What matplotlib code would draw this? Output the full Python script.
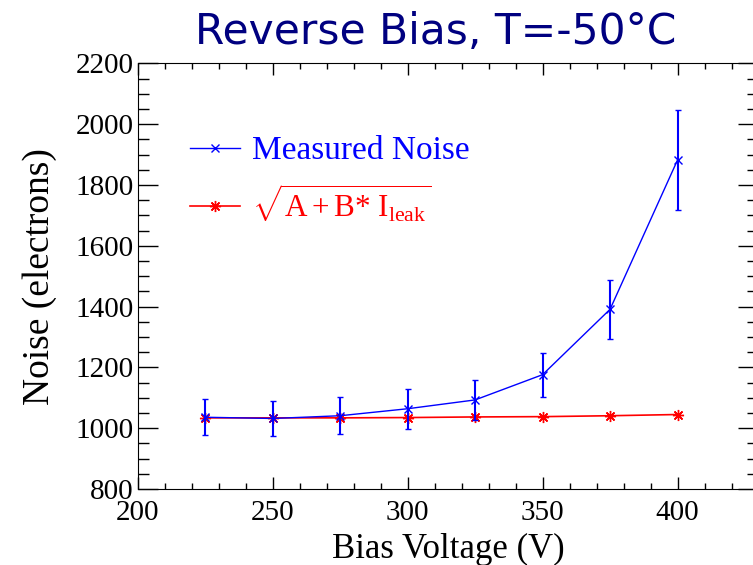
import matplotlib
matplotlib.use('Agg')
import matplotlib.pyplot as plt
from matplotlib.ticker import MultipleLocator

# bias voltage points (V)
voltage = [225, 250, 275, 300, 325, 350, 375, 400]
# measured noise and its error (electrons)
noise = [1036, 1032, 1041, 1064, 1093, 1176, 1391, 1882]
noise_err = [60, 58, 60, 66, 66, 72, 98, 165]
# expected noise from leakage current
leak_noise = [1034, 1034, 1034, 1035, 1037, 1038, 1041, 1045]

plt.rcParams['font.family'] = ['Liberation Serif', 'DejaVu Serif']
plt.rcParams['mathtext.fontset'] = 'custom'
plt.rcParams['mathtext.rm'] = 'Liberation Serif'
plt.rcParams['mathtext.it'] = 'Liberation Serif:italic'

fig = plt.figure(figsize=(7.53, 5.65), dpi=100)
ax = fig.add_axes([0.1829, 0.1345, 0.8244, 0.7534])

eb = ax.errorbar(voltage, noise, yerr=noise_err, color='#0000ff', lw=1.0,
                 marker='x', ms=6, mew=1.0, elinewidth=1.5, capsize=2.5,
                 capthick=1.5, zorder=3)
red, = ax.plot(voltage, leak_noise, color='#ff0000', lw=1.2, marker=(8, 2, 0),
               ms=8, mew=1.0, zorder=2)

ax.set_xlim(200, 430)
ax.set_ylim(800, 2200)
ax.xaxis.set_major_locator(MultipleLocator(50))
ax.xaxis.set_minor_locator(MultipleLocator(10))
ax.yaxis.set_major_locator(MultipleLocator(200))
ax.yaxis.set_minor_locator(MultipleLocator(50))
ax.tick_params(which='both', direction='in', top=True, right=True,
               labelsize=21, width=1.0)
ax.tick_params(axis='x', which='major', length=8.6, pad=8)
ax.tick_params(axis='x', which='minor', length=4.3)
ax.tick_params(axis='y', which='major', length=14.4, pad=3)
ax.tick_params(axis='y', which='minor', length=7.9)

ax.set_xlabel('Bias Voltage (V)', fontsize=25, labelpad=5)
ax.set_ylabel('Noise (electrons)', fontsize=27, labelpad=13)

leg = ax.legend([eb.lines[0], red],
                ['Measured Noise', r'$\sqrt{\mathrm{A+B{*}\ I_{leak}}}$'],
                loc='upper left', bbox_to_anchor=(0.084, 0.83), frameon=False,
                fontsize=24, handlelength=1.5, handletextpad=0.36,
                labelspacing=0.5, borderpad=0, borderaxespad=0,
                labelcolor='linecolor')
leg.get_texts()[1].set_fontsize(22.5)

fig.text(0.579, 0.943, 'Reverse Bias, T=-50°C', family='DejaVu Sans',
         fontsize=30.5, color='#000080', ha='center', va='center')

fig.savefig('out.png', dpi=100)
